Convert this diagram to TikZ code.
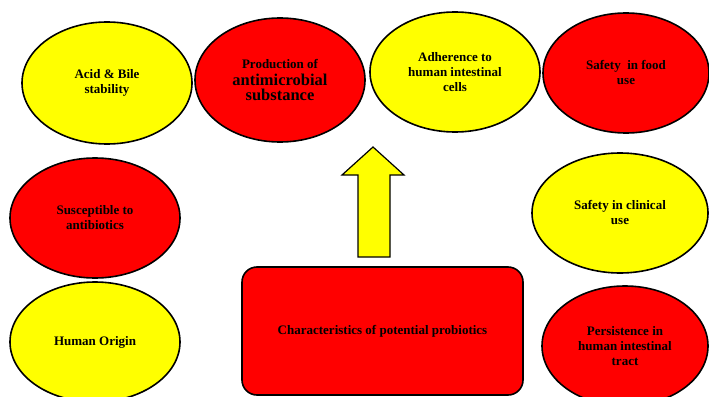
\documentclass[tikz,border=0pt]{standalone}
\usepackage{fontspec}
\setmainfont{Liberation Serif}
\usetikzlibrary{shapes.geometric}

\definecolor{bubred}{RGB}{255,0,0}
\definecolor{bubyellow}{RGB}{255,255,0}
\newcommand{\bigtxt}{\fontsize{16.5}{19}\selectfont}

\begin{document}
\begin{tikzpicture}[x=1pt,y=-1pt,
	bubble/.style={ellipse, draw=black, line width=1.6pt, inner sep=0pt,
		minimum width=170pt, minimum height=120pt, align=center,
		font=\bfseries\fontsize{13}{15}\selectfont},
	yel/.style={bubble, fill=bubyellow},
	rd/.style={bubble, fill=bubred},
	arrowfill/.style={fill=bubyellow, draw=black, line width=1.2pt, line join=miter}]
	\useasboundingbox (0,0) rectangle (709,396);
	% top row
	\node[yel, minimum height=122pt] (acid) at (107,83) {Acid \& Bile\\stability};
	\node[rd, minimum height=124pt] (prod) at (280,80) {Production of\\[2pt]\bigtxt antimicrobial\\\bigtxt substance};
	\node[yel] (adh) at (455,72) {Adherence to\\human intestinal\\cells};
	\node[rd, minimum width=166pt] (food) at (626,73) {Safety\ \ in food\\use};
	% left column
	\node[rd] (susc) at (95,218) {Susceptible to\\antibiotics};
	\node[yel] (orig) at (95,342) {Human Origin};
	% right column
	\node[yel, minimum width=176pt] (clin) at (620,213) {Safety in clinical\\use};
	\node[rd, minimum width=166pt] (pers) at (625,346) {Persistence in\\human intestinal\\tract};
	% centre box
	\node[draw=black, line width=1.6pt, fill=bubred, rounded corners=15pt,
		minimum width=281pt, minimum height=128pt, inner sep=0pt,
		font=\bfseries\fontsize{13}{15}\selectfont] (char) at (382.5,331) {Characteristics of potential probiotics};
	% block arrow
	\filldraw[arrowfill] (358,257) -- (358,175) -- (342,175) -- (373,147)
		-- (404,175) -- (390,175) -- (390,257) -- cycle;
\end{tikzpicture}
\end{document}
